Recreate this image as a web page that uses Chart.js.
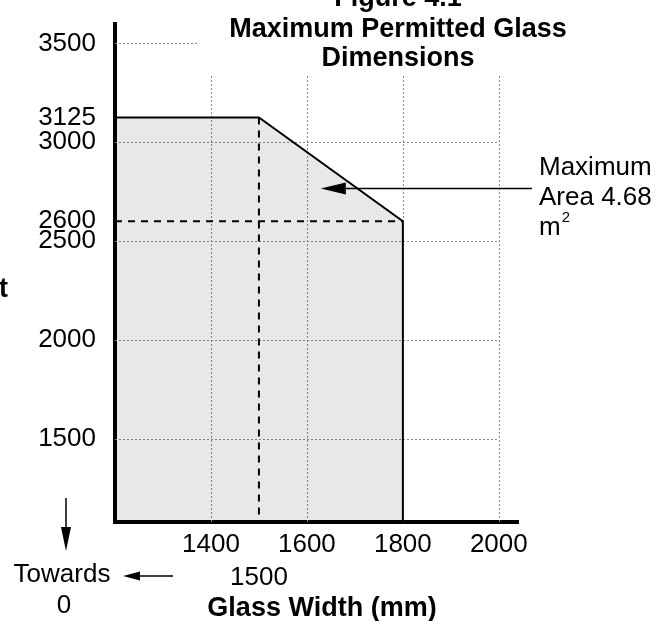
<!DOCTYPE html>
<html>
<head>
<meta charset="utf-8">
<script src="https://cdn.jsdelivr.net/npm/chart.js@4"></script>
<style>
  html, body { margin: 0; padding: 0; background: #fff; }
  #c { display: block; }
</style>
</head>
<body>
<canvas id="c" width="668" height="621"></canvas>
<script>
// ---- data ----
const titleLines = ['Figure 4.1', 'Maximum Permitted Glass', 'Dimensions'];
const xAxisTitle = 'Glass Width (mm)';
const yAxisTitle = 'Glass Height';
const xRange = [1200, 2040];
const yRange = [1078, 3598];
const xTickValues = [1400, 1500, 1600, 1800, 2000];
const xSecondRowTicks = [1500];
const yTickValues = [1500, 2000, 2500, 2600, 3000, 3125, 3500];
const xGridValues = [1400, 1600, 1800, 2000];
const yGridValues = [1500, 2000, 2500, 3000, 3500];
// boundary of permitted region (width, height)
const boundaryWidths = [1200, 1500, 1800, 1800];
const boundaryHeights = [3125, 3125, 2600, 1078];
// dashed reference lines
const refWidthLineX = [1500, 1500];
const refWidthLineY = [3125, 1078];
const refHeightLineX = [1200, 1800];
const refHeightLineY = [2600, 2600];
// annotation
const annotationLines = ['Maximum', 'Area 4.68', 'm'];
const annotationSup = '2';
const annotationArrowFrom = [2069, 2766];
const annotationArrowTo = [1629, 2766];
const towardsLines = ['Towards', '0'];

const FONT = '"Liberation Sans", Arial, Helvetica, sans-serif';

function pts(xs, ys) { return xs.map((x, i) => ({ x: x, y: ys[i] })); }

function arrow(ctx, x1, y1, x2, y2, len, half) {
  const a = Math.atan2(y2 - y1, x2 - x1);
  const bx = x2 - Math.cos(a) * len, by = y2 - Math.sin(a) * len;
  ctx.beginPath();
  ctx.moveTo(x1, y1);
  ctx.lineTo(bx, by);
  ctx.stroke();
  ctx.beginPath();
  ctx.moveTo(x2, y2);
  ctx.lineTo(bx + Math.sin(a) * half, by - Math.cos(a) * half);
  ctx.lineTo(bx - Math.sin(a) * half, by + Math.cos(a) * half);
  ctx.closePath();
  ctx.fill();
}

const gridPlugin = {
  id: 'gridPlugin',
  beforeDatasetsDraw(chart) {
    const ctx = chart.ctx, xs = chart.scales.x, ys = chart.scales.y;
    const area = chart.chartArea;
    ctx.save();
    ctx.strokeStyle = '#8a8a8a';
    ctx.lineWidth = 1;
    ctx.setLineDash([2, 2]);
    const gridTop = 76;
    const gridRight = xs.getPixelForValue(xGridValues[xGridValues.length - 1]);
    xGridValues.forEach(v => {
      const px = Math.round(xs.getPixelForValue(v)) + 0.5;
      ctx.beginPath(); ctx.moveTo(px, gridTop); ctx.lineTo(px, area.bottom); ctx.stroke();
    });
    yGridValues.forEach(v => {
      const py = Math.round(ys.getPixelForValue(v)) + 0.5;
      const right = v === 3500 ? 199 : gridRight;
      ctx.beginPath(); ctx.moveTo(area.left, py); ctx.lineTo(right, py); ctx.stroke();
    });
    ctx.restore();
  },
  afterDraw(chart) {
    const ctx = chart.ctx, xs = chart.scales.x, ys = chart.scales.y;
    ctx.save();
    ctx.fillStyle = '#000';
    ctx.strokeStyle = '#000';
    // title
    ctx.font = 'bold 27px ' + FONT;
    ctx.textAlign = 'center';
    ctx.textBaseline = 'alphabetic';
    const tb = [6, 37, 66];
    titleLines.forEach((t, i) => ctx.fillText(t, 398, tb[i]));
    // x axis title
    ctx.fillText(xAxisTitle, 322, 616);
    // y axis title (clipped at left edge)
    ctx.textAlign = 'right';
    ctx.fillText(yAxisTitle, 8, 297);
    // annotation text
    ctx.font = '26px ' + FONT;
    ctx.textAlign = 'left';
    const ab = [175, 205, 235];
    annotationLines.forEach((t, i) => ctx.fillText(t, 539, ab[i]));
    const mW = ctx.measureText(annotationLines[2]).width;
    ctx.font = '15px ' + FONT;
    ctx.fillText(annotationSup, 539 + mW + 1, 222);
    // annotation arrow
    ctx.lineWidth = 1.5;
    arrow(ctx,
      xs.getPixelForValue(annotationArrowFrom[0]), ys.getPixelForValue(annotationArrowFrom[1]),
      xs.getPixelForValue(annotationArrowTo[0]), ys.getPixelForValue(annotationArrowTo[1]), 25, 6);
    // Towards 0
    ctx.font = '26px ' + FONT;
    ctx.textAlign = 'center';
    ctx.fillText(towardsLines[0], 62, 582);
    ctx.fillText(towardsLines[1], 64, 613);
    arrow(ctx, 66, 498, 66, 551, 24, 5);
    arrow(ctx, 173, 576, 123, 576, 17, 4.5);
    ctx.restore();
  }
};

new Chart(document.getElementById('c'), {
  type: 'scatter',
  data: {
    datasets: [
      {
        data: pts(boundaryWidths, boundaryHeights),
        showLine: true,
        borderColor: '#000',
        borderWidth: 2,
        backgroundColor: 'rgba(0,0,0,0.09)',
        fill: 'start',
        pointRadius: 0,
        tension: 0
      },
      {
        data: pts(refWidthLineX, refWidthLineY),
        showLine: true,
        borderColor: '#000',
        borderWidth: 2,
        borderDash: [7, 6],
        fill: false,
        pointRadius: 0
      },
      {
        data: pts(refHeightLineX, refHeightLineY),
        showLine: true,
        borderColor: '#000',
        borderWidth: 2,
        borderDash: [7, 6],
        fill: false,
        pointRadius: 0
      }
    ]
  },
  options: {
    responsive: false,
    animation: false,
    devicePixelRatio: 1,
    events: [],
    layout: { padding: { top: 24, right: 150, left: 0, bottom: 0 } },
    plugins: { legend: { display: false }, tooltip: { enabled: false }, title: { display: false } },
    scales: {
      x: {
        type: 'linear',
        min: xRange[0], max: xRange[1],
        afterBuildTicks(s) { s.ticks = xTickValues.map(v => ({ value: v })); },
        afterFit(s) { s.height = 99; s.paddingLeft = 0; s.paddingRight = 0; },
        grid: { display: false, drawTicks: false },
        border: { display: true, color: '#000', width: 4 },
        ticks: {
          autoSkip: false,
          maxRotation: 0,
          padding: 7,
          color: '#000',
          font: { family: FONT, size: 26, lineHeight: 1.25 },
          callback: v => xSecondRowTicks.includes(v) ? ['', String(v)] : String(v)
        }
      },
      y: {
        type: 'linear',
        min: yRange[0], max: yRange[1],
        afterBuildTicks(s) { s.ticks = yTickValues.map(v => ({ value: v })); },
        afterFit(s) { s.width = 115; s.paddingTop = 0; s.paddingBottom = 0; },
        grid: { display: false, drawTicks: false },
        border: { display: true, color: '#000', width: 4 },
        ticks: {
          autoSkip: false,
          padding: 19,
          color: '#000',
          font: { family: FONT, size: 26, lineHeight: 1.2 },
          callback: v => String(v)
        }
      }
    }
  },
  plugins: [gridPlugin]
});
</script>
</body>
</html>
